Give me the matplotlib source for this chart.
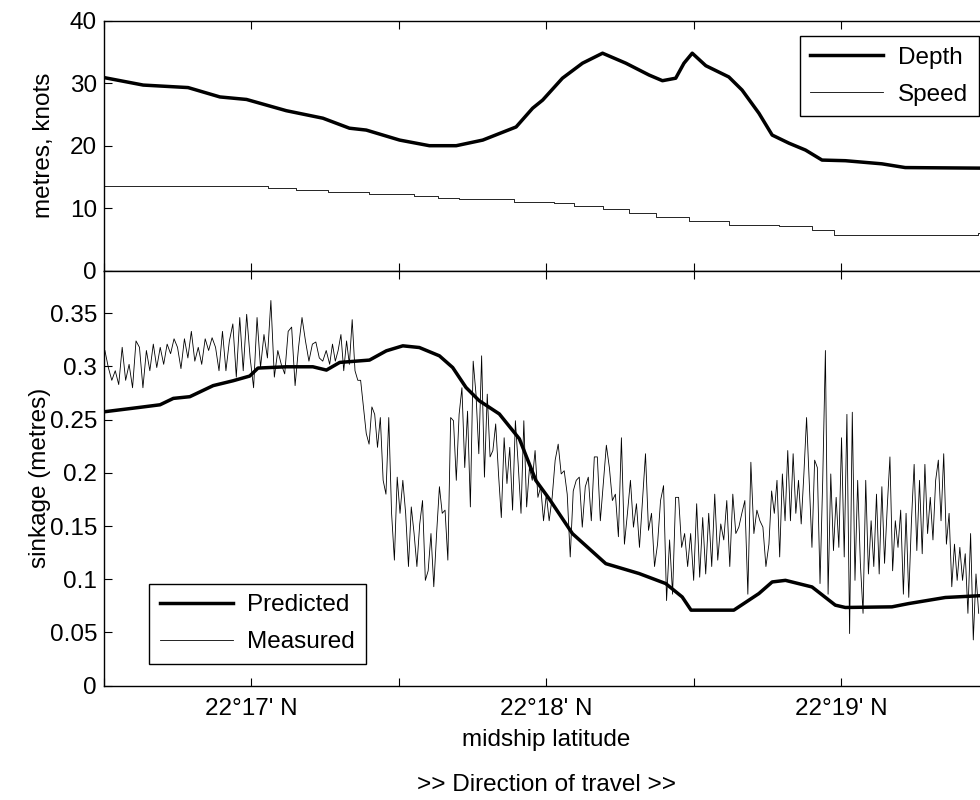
import numpy as np
import matplotlib
matplotlib.use("Agg")
import matplotlib.pyplot as plt
from matplotlib.ticker import MultipleLocator, FuncFormatter

FS = 17.5
plt.rcParams['font.family'] = ['Liberation Sans', 'DejaVu Sans']
plt.rcParams['font.size'] = FS

# latitude in minutes past 22 deg N
depth_lat = [16.500, 16.633, 16.785, 16.893, 16.983, 17.118, 17.242, 17.332, 17.389,
             17.502, 17.603, 17.694, 17.784, 17.897, 17.953, 17.987, 18.054, 18.122,
             18.190, 18.269, 18.348, 18.393, 18.438, 18.466, 18.494, 18.540, 18.618,
             18.663, 18.720, 18.765, 18.822, 18.878, 18.934, 19.013, 19.137, 19.216, 19.500]
depth = [30.9, 29.7, 29.3, 27.8, 27.4, 25.6, 24.4, 22.8, 22.5,
         20.9, 20.0, 20.0, 20.9, 23.0, 26.0, 27.3, 30.8, 33.2,
         34.8, 33.2, 31.3, 30.4, 30.8, 33.2, 34.8, 32.8, 31.0,
         28.9, 25.2, 21.7, 20.4, 19.3, 17.7, 17.6, 17.1, 16.5, 16.4]

speed_lat = [16.500, 17.056, 17.152, 17.259, 17.400, 17.552, 17.631, 17.704, 17.890,
             18.026, 18.094, 18.190, 18.280, 18.370, 18.483, 18.618, 18.788, 18.900,
             18.974, 19.363, 19.464, 19.500]
speed = [13.5, 13.3, 12.9, 12.6, 12.3, 12.0, 11.7, 11.4, 11.0,
         10.9, 10.35, 9.8, 9.3, 8.6, 7.95, 7.3, 7.15, 6.5,
         5.65, 5.65, 6.0, 6.0]

pred_lat = [16.503, 16.622, 16.690, 16.735, 16.791, 16.870, 16.938, 16.994, 17.022,
            17.118, 17.208, 17.254, 17.299, 17.400, 17.457, 17.513, 17.569, 17.637,
            17.682, 17.727, 17.772, 17.840, 17.908, 17.964, 18.009, 18.088, 18.201,
            18.314, 18.404, 18.460, 18.490, 18.635, 18.720, 18.765, 18.810, 18.900,
            18.979, 19.013, 19.171, 19.228, 19.352, 19.500]
predicted = [0.2575, 0.2616, 0.264, 0.270, 0.2716, 0.282, 0.2866, 0.291, 0.2985,
             0.2997, 0.2997, 0.2966, 0.3038, 0.306, 0.3147, 0.3194, 0.3178, 0.310,
             0.299, 0.2803, 0.2678, 0.2554, 0.232, 0.1928, 0.1757, 0.1429, 0.1147,
             0.1054, 0.096, 0.0834, 0.071, 0.071, 0.0866, 0.0975, 0.099, 0.0928,
             0.0757, 0.0735, 0.0741, 0.0772, 0.0829, 0.085]

# measured sinkage, read in four stretches of track
meas_bounds = [16.503, 17.265, 18.009, 18.754, 19.465]
meas_1 = [0.315, 0.299, 0.287, 0.296, 0.283, 0.318, 0.287, 0.302, 0.280, 0.324,
          0.318, 0.280, 0.315, 0.296, 0.321, 0.299, 0.318, 0.302, 0.321, 0.312,
          0.326, 0.318, 0.298, 0.326, 0.308, 0.333, 0.305, 0.318, 0.302, 0.326,
          0.315, 0.327, 0.318, 0.296, 0.333, 0.296, 0.324, 0.340, 0.290, 0.346,
          0.296, 0.349, 0.308, 0.280, 0.346, 0.299, 0.330, 0.308, 0.362, 0.290,
          0.315, 0.302, 0.293, 0.333, 0.337, 0.282, 0.318, 0.346, 0.324, 0.305,
          0.321, 0.323, 0.308, 0.305, 0.315]
meas_2 = [0.302, 0.321, 0.305, 0.315, 0.330, 0.296, 0.324, 0.302, 0.344, 0.296,
          0.287, 0.287, 0.262, 0.237, 0.227, 0.262, 0.255, 0.224, 0.252, 0.193,
          0.180, 0.252, 0.162, 0.118, 0.196, 0.162, 0.193, 0.162, 0.112, 0.168,
          0.143, 0.112, 0.152, 0.174, 0.099, 0.108, 0.143, 0.093, 0.143, 0.187,
          0.162, 0.165, 0.118, 0.252, 0.249, 0.193, 0.255, 0.280, 0.205, 0.258,
          0.168, 0.305, 0.274, 0.218, 0.310, 0.196, 0.274, 0.215, 0.221, 0.246,
          0.199, 0.158, 0.233, 0.190, 0.224, 0.165, 0.249, 0.208, 0.162, 0.249,
          0.168, 0.205, 0.193, 0.221, 0.177, 0.187, 0.155, 0.180]
meas_3 = [0.155, 0.177, 0.212, 0.227, 0.199, 0.202, 0.180, 0.121, 0.183, 0.193,
          0.196, 0.149, 0.187, 0.196, 0.155, 0.215, 0.215, 0.155, 0.190, 0.226,
          0.205, 0.174, 0.180, 0.140, 0.233, 0.133, 0.162, 0.193, 0.149, 0.171,
          0.130, 0.174, 0.218, 0.146, 0.162, 0.112, 0.133, 0.174, 0.188, 0.080,
          0.137, 0.086, 0.177, 0.177, 0.130, 0.143, 0.112, 0.143, 0.099, 0.171,
          0.102, 0.158, 0.105, 0.162, 0.112, 0.180, 0.118, 0.152, 0.137, 0.174,
          0.112, 0.180, 0.143, 0.149, 0.162, 0.174, 0.086, 0.210, 0.143, 0.165,
          0.155, 0.149, 0.112]
meas_4 = [0.133, 0.183, 0.162, 0.193, 0.121, 0.199, 0.155, 0.221, 0.155, 0.218,
          0.162, 0.193, 0.152, 0.199, 0.252, 0.190, 0.130, 0.212, 0.205, 0.096,
          0.193, 0.315, 0.086, 0.199, 0.127, 0.177, 0.130, 0.233, 0.121, 0.255,
          0.049, 0.257, 0.099, 0.193, 0.115, 0.068, 0.193, 0.105, 0.155, 0.112,
          0.180, 0.105, 0.187, 0.115, 0.168, 0.215, 0.108, 0.155, 0.130, 0.165,
          0.086, 0.162, 0.083, 0.155, 0.208, 0.127, 0.193, 0.124, 0.208, 0.143,
          0.177, 0.137, 0.193, 0.212, 0.155, 0.218, 0.133, 0.162, 0.093, 0.133,
          0.099, 0.130, 0.099, 0.124, 0.068, 0.143, 0.043, 0.105, 0.068]

meas_parts = [meas_1, meas_2, meas_3, meas_4]
meas_lat = []
meas_val = []
for i, part in enumerate(meas_parts):
    n = len(part)
    if i < 3:
        lats = np.linspace(meas_bounds[i], meas_bounds[i + 1], n + 1)[:n]
    else:
        lats = np.linspace(meas_bounds[i], meas_bounds[i + 1], n)
    meas_lat.extend(lats)
    meas_val.extend(part)

W, H = 980, 800
fig = plt.figure(figsize=(W / 100, H / 100), dpi=100)

left = 104 / W
width = (989 - 104) / W
ax1 = fig.add_axes([left, 1 - 270.7 / H, width, (270.7 - 20.7) / H])
ax2 = fig.add_axes([left, 1 - 685.7 / H, width, (685.7 - 270.7) / H])


def lat_fmt(v, pos):
    if abs(v - round(v)) < 1e-6:
        return "22\u00b0%d' N" % int(round(v))
    return ''


for ax in (ax1, ax2):
    ax.set_xlim(16.5, 19.5)
    ax.xaxis.set_major_locator(MultipleLocator(0.5))
    ax.tick_params(direction='in', length=5.5, width=0.8, top=True, right=True,
                   labelsize=FS, pad=5)
    for s in ax.spines.values():
        s.set_linewidth(1.0)

ax1.plot(depth_lat, depth, color='k', lw=2.5, label='Depth')
ax1.plot(speed_lat, speed, color='k', lw=0.6, drawstyle='steps-post', label='Speed')
ax1.set_ylim(0, 40)
ax1.yaxis.set_major_locator(MultipleLocator(10))
ax1.tick_params(axis='x', labelbottom=False)
ax1.set_ylabel('metres, knots')
ax1.yaxis.set_label_coords(-0.055, 0.5)
leg1 = ax1.legend(loc='upper right', bbox_to_anchor=(979 / W, 1 - 36 / H),
                  bbox_transform=fig.transFigure, borderaxespad=0, fancybox=False,
                  edgecolor='k', framealpha=1, handlelength=3.0, labelspacing=0.6,
                  borderpad=0.45, handletextpad=0.6, fontsize=FS)
leg1.get_frame().set_linewidth(1.0)

ax2.plot(pred_lat, predicted, color='k', lw=2.5, label='Predicted', zorder=3)
ax2.plot(meas_lat, meas_val, color='k', lw=0.6, label='Measured', zorder=2)
ax2.set_ylim(0, 0.39)
ax2.yaxis.set_major_locator(MultipleLocator(0.05))
ax2.yaxis.set_major_formatter(FuncFormatter(lambda v, p: '0' if v == 0 else ('%.2f' % v).rstrip('0')))
ax2.xaxis.set_major_formatter(FuncFormatter(lat_fmt))
ax2.tick_params(axis='x', pad=9)
ax2.set_ylabel('sinkage (metres)')
ax2.yaxis.set_label_coords(-0.06, 0.5)
ax2.set_xlabel('midship latitude')
ax2.xaxis.set_label_coords(0.5, -0.104)
leg2 = ax2.legend(loc='lower left', bbox_to_anchor=(149 / W, 1 - 664 / H),
                  bbox_transform=fig.transFigure, borderaxespad=0, fancybox=False,
                  edgecolor='k', framealpha=1, handlelength=3.0, labelspacing=0.6,
                  borderpad=0.45, handletextpad=0.6, fontsize=FS)
leg2.get_frame().set_linewidth(1.0)

fig.text(546.5 / W, 1 - 785 / H, '>> Direction of travel >>', ha='center', va='center',
         fontsize=FS)

fig.savefig('out.png', dpi=100)
